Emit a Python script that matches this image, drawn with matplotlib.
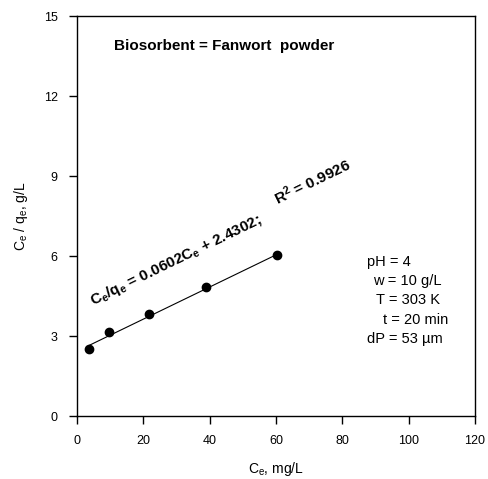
import numpy as np
import matplotlib.pyplot as plt

plt.rcParams['font.family'] = ['Liberation Sans', 'DejaVu Sans']
plt.rcParams['mathtext.fontset'] = 'custom'
plt.rcParams['mathtext.rm'] = 'Liberation Sans'
plt.rcParams['mathtext.it'] = 'Liberation Sans:italic'
plt.rcParams['mathtext.bf'] = 'Liberation Sans:bold'

# data
ce = [3.7, 9.6, 21.7, 38.9, 60.2]
ce_qe = [2.50, 3.15, 3.82, 4.85, 6.02]
slope, intercept = 0.0602, 2.4302

conditions = ["pH = 4", "w = 10 g/L", "T = 303 K", "t = 20 min", "dP = 53 \u00b5m"]
cond_x = [0.729, 0.744, 0.752, 0.768, 0.729]

fig = plt.figure(figsize=(4.88, 4.79), dpi=100)
ax = fig.add_axes([0.158, 0.1315, 0.815, 0.835])

xs = np.array([min(ce), max(ce)])
ax.plot(xs, slope * xs + intercept, color='black', lw=0.8)
ax.plot(ce, ce_qe, 'o', color='black', ms=6)

ax.set_xlim(0, 120)
ax.set_ylim(0, 15)
ax.set_xticks(np.arange(0, 121, 20))
ax.set_yticks(np.arange(0, 16, 3))
ax.tick_params(direction='out', length=6, width=1, labelsize=9, pad=8)
for s in ax.spines.values():
    s.set_linewidth(1)

ax.set_xlabel("C$_{\\rm e}$, mg/L", fontsize=10, labelpad=9)
ax.set_ylabel("C$_{\\rm e}$ / q$_{\\rm e}$, g/L", fontsize=10, labelpad=10)

ax.text(0.092, 0.925, "Biosorbent = Fanwort  powder", transform=ax.transAxes,
        fontsize=11, fontweight='bold', ha='left', va='center')

# fitted line equation, bold like the original
ax.text(4.8, 4.15, "C$_{\\mathbf{e}}$/q$_{\\mathbf{e}}$ = 0.0602C$_{\\mathbf{e}}$ + 2.4302;",
        fontsize=11, fontweight='bold',
        rotation=26, ha='left', va='baseline', rotation_mode='anchor')
ax.text(60.5, 7.9, "R$^{\\mathbf{2}}$ = 0.9926", fontsize=11, fontweight='bold',
        rotation=26, ha='left', va='baseline', rotation_mode='anchor')

for i, (t, x) in enumerate(zip(conditions, cond_x)):
    ax.text(x, 0.385 - i * 0.048, t, transform=ax.transAxes,
            fontsize=10.5, ha='left', va='center')

fig.savefig("out.png", dpi=100)
